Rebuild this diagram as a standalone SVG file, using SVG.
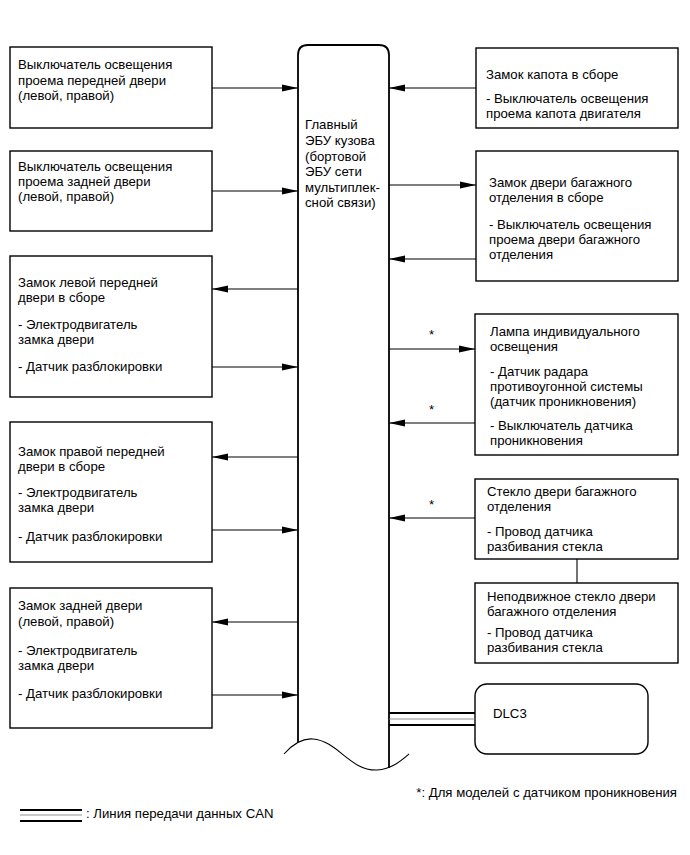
<svg xmlns="http://www.w3.org/2000/svg" width="690" height="855" viewBox="0 0 690 855">
<style>
text{font-family:"Liberation Sans",Arial,sans-serif;font-size:13.2px;fill:#000}
.box{fill:#fff;stroke:#000;stroke-width:1.4}
.ln{stroke:#000;stroke-width:1.1;fill:none}
.arr{stroke:#000;stroke-width:1.1;fill:none;marker-end:url(#ah)}
</style>
<defs>
<marker id="ah" markerUnits="userSpaceOnUse" markerWidth="16" markerHeight="8" refX="14" refY="3.5" orient="auto" viewBox="0 0 14 7">
<path d="M0,0.5 L14,3.5 L0,6.5 Z" fill="#000"/>
</marker>
</defs>
<rect width="690" height="855" fill="#fff"/>

<g id="ecu">
<path d="M298,742 L298,55 Q298,45 308,45 L379,45 Q389,45 389,55 L389,768" fill="#fff" stroke="#000" stroke-width="1.8"/>
<path d="M284,754 C292,745 302,738 313,739 C338,741 350,771 377,770 C392,769 402,760 409,754" fill="none" stroke="#000" stroke-width="1.1"/>
<text x="305" y="129">Главный</text>
<text x="305" y="145">ЭБУ кузова</text>
<text x="305" y="161">(бортовой</text>
<text x="305" y="176">ЭБУ сети</text>
<text x="305" y="192">мультиплек-</text>
<text x="305" y="207">сной связи)</text>
</g>

<g id="front-door-courtesy">
<rect class="box" x="10" y="47" width="202" height="81"/>
<text x="18" y="69">Выключатель освещения</text>
<text x="18" y="85">проема передней двери</text>
<text x="18" y="100">(левой, правой)</text>
</g>

<g id="rear-door-courtesy">
<rect class="box" x="10" y="151" width="202" height="80"/>
<text x="18" y="171">Выключатель освещения</text>
<text x="18" y="186">проема задней двери</text>
<text x="18" y="201">(левой, правой)</text>
</g>

<g id="fl-door-lock">
<rect class="box" x="10" y="256" width="202" height="141"/>
<text x="18" y="287">Замок левой передней</text>
<text x="18" y="302">двери в сборе</text>
<text x="18" y="329">- Электродвигатель</text>
<text x="18" y="344">замка двери</text>
<text x="18" y="371">- Датчик разблокировки</text>
</g>

<g id="fr-door-lock">
<rect class="box" x="10" y="422" width="202" height="140"/>
<text x="18" y="456">Замок правой передней</text>
<text x="18" y="471">двери в сборе</text>
<text x="18" y="497">- Электродвигатель</text>
<text x="18" y="512">замка двери</text>
<text x="18" y="541">- Датчик разблокировки</text>
</g>

<g id="rear-door-lock">
<rect class="box" x="10" y="588" width="202" height="140"/>
<text x="18" y="610">Замок задней двери</text>
<text x="18" y="626">(левой, правой)</text>
<text x="18" y="655">- Электродвигатель</text>
<text x="18" y="670">замка двери</text>
<text x="18" y="698">- Датчик разблокировки</text>
</g>

<g id="hood-lock">
<rect class="box" x="476" y="48" width="202" height="80"/>
<text x="486" y="79">Замок капота в сборе</text>
<text x="486" y="103">- Выключатель освещения</text>
<text x="486" y="118">проема капота двигателя</text>
</g>

<g id="back-door-lock">
<rect class="box" x="476" y="151" width="202" height="130"/>
<text x="489" y="187">Замок двери багажного</text>
<text x="489" y="202">отделения в сборе</text>
<text x="489" y="229">- Выключатель освещения</text>
<text x="489" y="244">проема двери багажного</text>
<text x="489" y="259">отделения</text>
</g>

<g id="personal-light">
<rect class="box" x="475" y="314" width="203" height="141"/>
<text x="490" y="336">Лампа индивидуального</text>
<text x="490" y="351">освещения</text>
<text x="490" y="376">- Датчик радара</text>
<text x="490" y="391">противоугонной системы</text>
<text x="490" y="406">(датчик проникновения)</text>
<text x="490" y="430">- Выключатель датчика</text>
<text x="490" y="445">проникновения</text>
</g>

<g id="back-door-glass">
<rect class="box" x="475" y="479" width="203" height="80"/>
<text x="487" y="496">Стекло двери багажного</text>
<text x="487" y="511">отделения</text>
<text x="487" y="536">- Провод датчика</text>
<text x="487" y="551">разбивания стекла</text>
</g>

<g id="fixed-glass">
<rect class="box" x="475" y="583" width="203" height="80"/>
<text x="487" y="601">Неподвижное стекло двери</text>
<text x="487" y="616">багажного отделения</text>
<text x="487" y="637">- Провод датчика</text>
<text x="487" y="652">разбивания стекла</text>
</g>

<g id="dlc3">
<rect class="box" x="475" y="684" width="173" height="70" rx="12" ry="12"/>
<text x="493" y="718">DLC3</text>
</g>

<g id="connectors">
<line class="arr" x1="212" y1="88" x2="298" y2="88"/>
<line class="arr" x1="212" y1="191" x2="298" y2="191"/>
<line class="arr" x1="298" y1="289" x2="212" y2="289"/>
<line class="arr" x1="212" y1="367" x2="298" y2="367"/>
<line class="arr" x1="298" y1="457" x2="212" y2="457"/>
<line class="arr" x1="212" y1="530" x2="298" y2="530"/>
<line class="arr" x1="298" y1="622" x2="212" y2="622"/>
<line class="arr" x1="212" y1="695" x2="298" y2="695"/>

<line class="arr" x1="476" y1="88" x2="389" y2="88"/>
<line class="arr" x1="389" y1="185" x2="476" y2="185"/>
<line class="arr" x1="476" y1="259" x2="389" y2="259"/>
<line class="arr" x1="389" y1="349" x2="475" y2="349"/>
<line class="arr" x1="475" y1="423" x2="389" y2="423"/>
<line class="arr" x1="475" y1="518" x2="389" y2="518"/>
<line class="ln" x1="577" y1="559" x2="577" y2="583"/>

<text x="429" y="339" font-size="11">*</text>
<text x="429" y="414" font-size="11">*</text>
<text x="429" y="509" font-size="11">*</text>

<line x1="389" y1="713" x2="475" y2="713" stroke="#000" stroke-width="2.2"/>
<line x1="389" y1="719" x2="475" y2="719" stroke="#777" stroke-width="0.8"/>
<line x1="389" y1="725" x2="475" y2="725" stroke="#000" stroke-width="2.2"/>
</g>

<g id="legend">
<text x="677" y="797" text-anchor="end">*: Для моделей с датчиком проникновения</text>
<line x1="20" y1="810" x2="82" y2="810" stroke="#000" stroke-width="2"/>
<line x1="20" y1="815" x2="82" y2="815" stroke="#777" stroke-width="0.8"/>
<line x1="20" y1="821" x2="82" y2="821" stroke="#000" stroke-width="2"/>
<text x="86" y="818">: Линия передачи данных CAN</text>
</g>
</svg>
